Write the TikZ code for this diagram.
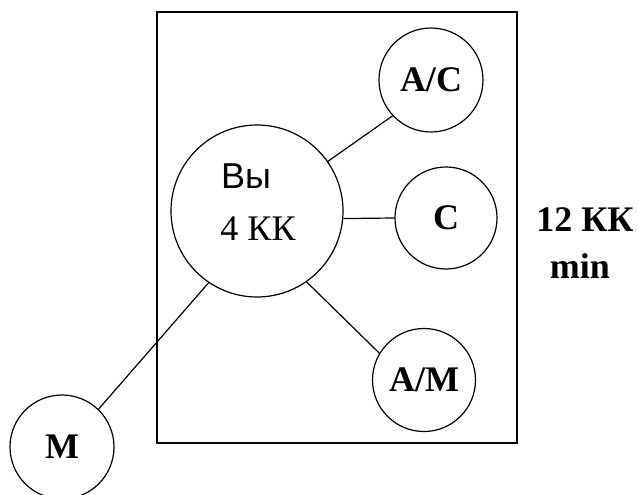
\documentclass[tikz,border=0pt]{standalone}
\usepackage{fontspec}
\setmainfont{Liberation Serif}
\newfontfamily\sansfont{Liberation Sans}
\usetikzlibrary{positioning}

\begin{document}
\begin{tikzpicture}[x=1pt, y=-1pt,
    krug/.style={circle, draw, line width=1.2pt, inner sep=0pt, minimum size=104pt,
        font=\fontsize{36}{40}\selectfont\bfseries},
    veza/.style={line width=1.2pt},
    tekst/.style={font=\fontsize{36}{40}\selectfont, inner sep=0pt}]
        % ============================================================
        % 1 jedn. = 1 px slike (638 x 495), y raste prema dolje
        % ============================================================
        \useasboundingbox (0,0) rectangle (638,495);

        % === OKVIR ===
        \draw[line width=1.8pt] (157,12) rectangle (517,443);

        % === VELIKI KRUG ===
        \node[krug, minimum size=172pt] (vy) at (257,211) {};
        \node[tekst, font=\sansfont\fontsize{36}{40}\selectfont] (vytxt) at (246,176) {Вы};
        \node[tekst] (kk) at (258,229) {4 КК};

        % === MALI KRUGOVI ===
        \node[krug] (ac) at (431,80) {A/C};
        \node[krug, minimum size=102pt] (c) at (446,218) {C};
        \node[krug, minimum size=103pt] (am) at (424,380) {A/M};
        \node[krug] (m) at (62,447) {M};

        % === VEZE ===
        \draw[veza] (vy.35) -- (ac.223);
        \draw[veza] (vy.-5) -- (c.west);
        \draw[veza] (vy.-55) -- (am.149);
        \draw[veza] (vy.-124) -- (m.46);

        % === NAPOMENA DESNO ===
        \node[tekst, font=\fontsize{36}{40}\selectfont\bfseries] (uk) at (585,220) {12 КК};
        \node[tekst, font=\fontsize{36}{40}\selectfont\bfseries] (mn) at (580,266) {min};

\end{tikzpicture}
\end{document}
